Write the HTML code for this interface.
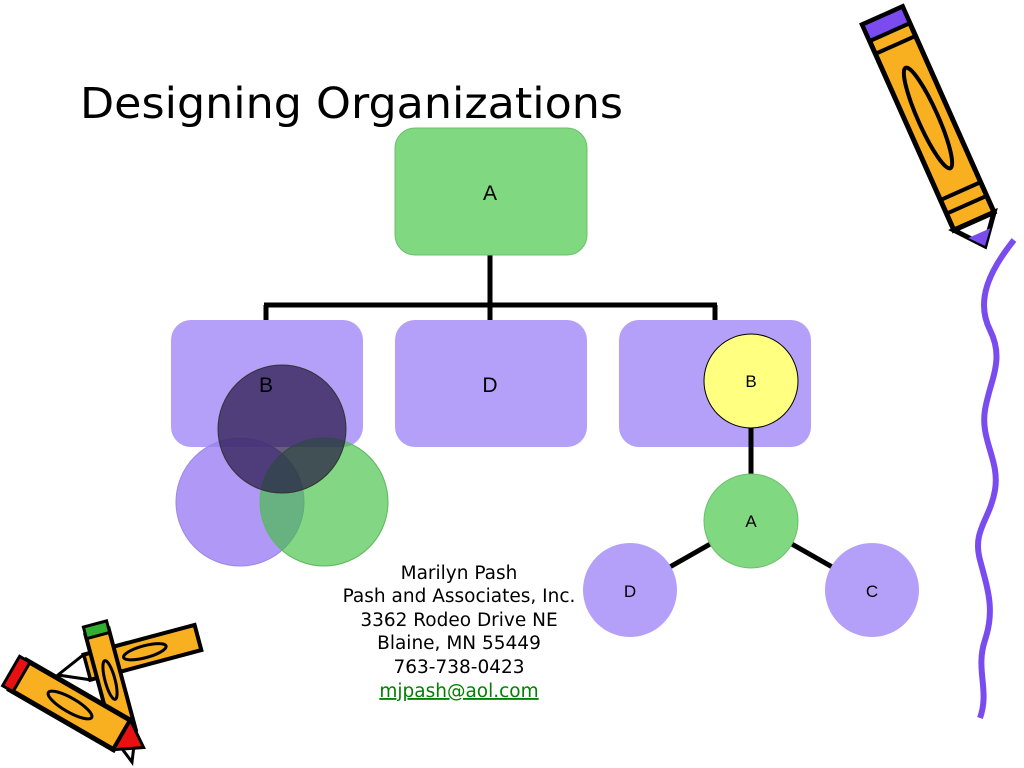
<!DOCTYPE html>
<html><head><meta charset="utf-8"><style>
html,body{margin:0;padding:0;background:#fff;}
svg{display:block;}
</style></head><body>
<svg width="1024" height="768" viewBox="0 0 1024 768" xmlns="http://www.w3.org/2000/svg">
<rect width="1024" height="768" fill="#fff"/>
<text x="80" y="118" font-family="DejaVu Sans, Liberation Sans, sans-serif" font-size="43" textLength="543" lengthAdjust="spacingAndGlyphs" fill="#000">Designing Organizations</text>

<g stroke="#000" stroke-width="5" fill="none">
<line x1="490" y1="255" x2="490" y2="306"/>
<line x1="264" y1="305" x2="717" y2="305"/>
<line x1="266" y1="305" x2="266" y2="322"/>
<line x1="490" y1="305" x2="490" y2="322"/>
<line x1="715" y1="305" x2="715" y2="322"/>
</g>

<rect x="395" y="128" width="192" height="127" rx="20" fill="#80d880" stroke="#6cc06c"/>
<text x="490" y="200" font-family="Liberation Sans, sans-serif" font-size="21" text-anchor="middle">A</text>
<rect x="171" y="320" width="192" height="127" rx="20" fill="#b4a0f8"/>
<rect x="395" y="320" width="192" height="127" rx="20" fill="#b4a0f8"/>
<rect x="619" y="320" width="192" height="127" rx="20" fill="#b4a0f8"/>
<text x="490" y="392" font-family="Liberation Sans, sans-serif" font-size="21" text-anchor="middle">D</text>

<circle cx="240" cy="502" r="64" fill="#9c80f4" fill-opacity="0.8" stroke="#9a88e8"/>
<circle cx="324" cy="502" r="64" fill="#40c040" fill-opacity="0.65" stroke="#5cb85c"/>
<circle cx="282" cy="429" r="64" fill="#201040" fill-opacity="0.68" stroke="#333"/>
<text x="266" y="392" font-family="Liberation Sans, sans-serif" font-size="21" text-anchor="middle">B</text>

<g stroke="#000" stroke-width="5">
<line x1="751" y1="428" x2="751" y2="476"/>
<line x1="712" y1="543" x2="668" y2="568"/>
<line x1="790" y1="543" x2="834" y2="568"/>
</g>
<circle cx="751" cy="381" r="47" fill="#ffff80" stroke="#000" stroke-width="1"/>
<circle cx="751" cy="521" r="47" fill="#80d880" stroke="#6cc06c"/>
<circle cx="630" cy="590" r="47" fill="#b4a0f8"/>
<circle cx="872" cy="590" r="47" fill="#b4a0f8"/>
<g font-family="Liberation Sans, sans-serif" font-size="17" text-anchor="middle">
<text x="751" y="387">B</text>
<text x="751" y="527">A</text>
<text x="630" y="597">D</text>
<text x="872" y="597">C</text>
</g>

<g font-family="DejaVu Sans, Liberation Sans, sans-serif" font-size="18.5" text-anchor="middle" fill="#000">
<text x="459" y="579">Marilyn Pash</text>
<text x="459" y="602">Pash and Associates, Inc.</text>
<text x="459" y="626">3362 Rodeo Drive NE</text>
<text x="459" y="649">Blaine, MN 55449</text>
<text x="459" y="673">763-738-0423</text>
<text x="459" y="697" fill="#008000" text-decoration="underline">mjpash@aol.com</text>
</g>

<path d="M1014,240 C990,270 975,300 990,330 C1005,360 990,380 985,410 C980,440 1000,460 995,490 C990,520 972,530 980,560 C988,590 995,610 985,640 C975,670 990,690 980,718" stroke="#7a4cf0" stroke-width="6" fill="none"/>

<g transform="translate(928,118) rotate(-24)">
<rect x="-22" y="-112" width="44" height="225" fill="#f8b020" stroke="#000" stroke-width="5"/>
<rect x="-22" y="-112" width="44" height="18" fill="#7a4cf0" stroke="#000" stroke-width="4"/>
<polygon points="-22,113 22,113 0,140" fill="#fff" stroke="#000" stroke-width="5"/>
<polygon points="-12,126 12,126 0,140" fill="#7a4cf0"/>
<ellipse cx="0" cy="0" rx="10" ry="55" fill="none" stroke="#000" stroke-width="4"/>
<line x1="-22" y1="-80" x2="22" y2="-80" stroke="#000" stroke-width="4"/>
<line x1="-22" y1="80" x2="22" y2="80" stroke="#000" stroke-width="4"/>
<line x1="-22" y1="95" x2="22" y2="95" stroke="#000" stroke-width="4"/>
</g>

<g transform="translate(140,653) rotate(-15)">
<rect x="-55" y="-13" width="115" height="26" fill="#f8b020" stroke="#000" stroke-width="4"/>
<polygon points="-55,-13 -55,13 -85,0" fill="#fff" stroke="#000" stroke-width="3"/>
<ellipse cx="5" cy="0" rx="22" ry="6" fill="none" stroke="#000" stroke-width="3"/>
</g>
<g transform="translate(110,680) rotate(-15)">
<rect x="-12" y="-50" width="24" height="105" fill="#f8b020" stroke="#000" stroke-width="4"/>
<rect x="-12" y="-58" width="24" height="12" fill="#30b030" stroke="#000" stroke-width="3"/>
<polygon points="-12,55 12,55 0,85" fill="#fff" stroke="#000" stroke-width="3"/>
<ellipse cx="0" cy="0" rx="5" ry="20" fill="none" stroke="#000" stroke-width="3"/>
</g>
<g transform="translate(70,705) rotate(30)">
<rect x="-60" y="-17" width="120" height="34" fill="#f8b020" stroke="#000" stroke-width="5"/>
<rect x="-68" y="-17" width="12" height="34" fill="#e81010" stroke="#000" stroke-width="3"/>
<polygon points="60,-17 60,17 85,0" fill="#e81010" stroke="#000" stroke-width="3"/>
<ellipse cx="0" cy="0" rx="25" ry="7" fill="none" stroke="#000" stroke-width="3"/>
</g>
</svg>
</body></html>
